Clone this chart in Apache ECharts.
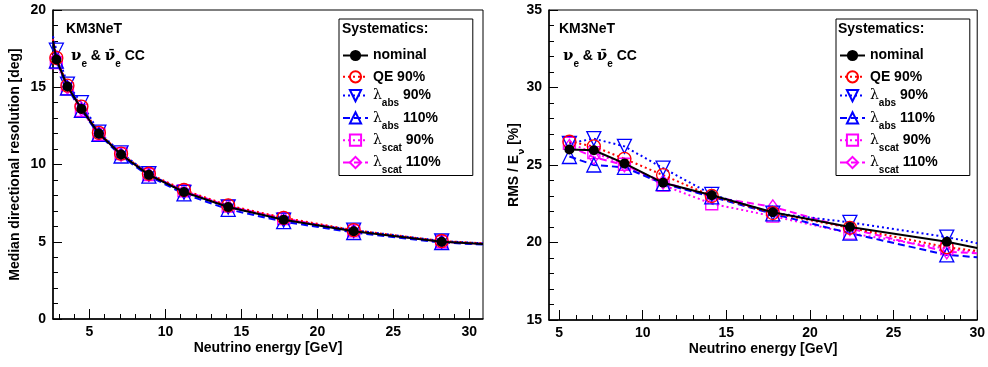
<!DOCTYPE html>
<html><head><meta charset="utf-8">
<script src="https://cdn.jsdelivr.net/npm/echarts@6/dist/echarts.min.js"></script>
<style>html,body{margin:0;padding:0;background:#fff}#c{width:988px;height:367px}</style>
</head><body><div id="c"></div>
<script>
// ---------- data ----------
const seriesNames = ['nominal', 'QE 90%', 'λabs 90%', 'λabs 110%', 'λscat 90%', 'λscat 110%'];

// Left panel: median directional resolution [deg]
const leftEnergy = [2.82, 3.55, 4.47, 5.62, 7.08, 8.91, 11.22, 14.13, 17.78, 22.39, 28.18];
const leftEdgeEnergy = [2.6, 30.9];
const leftNominal = [16.8, 15.05, 13.6, 12.0, 10.65, 9.33, 8.22, 7.25, 6.42, 5.68, 5.0];
const leftQE      = [16.9, 15.1, 13.75, 12.05, 10.7, 9.4, 8.35, 7.35, 6.55, 5.75, 5.05];
const leftAbs90   = [17.4, 15.2, 14.0, 12.1, 10.75, 9.4, 8.2, 7.25, 6.4, 5.75, 5.05];
const leftAbs110  = [16.7, 14.95, 13.5, 11.95, 10.55, 9.25, 8.1, 7.1, 6.3, 5.6, 4.95];
const leftScat90  = [16.6, 14.9, 13.5, 11.95, 10.7, 9.35, 8.3, 7.3, 6.5, 5.7, 5.0];
const leftScat110 = [16.9, 15.0, 13.6, 12.0, 10.65, 9.35, 8.3, 7.3, 6.5, 5.7, 5.0];
// line values at the frame edges (start, end)
const leftNominalEdge = [18.0, 4.86];
const leftQEEdge      = [18.1, 4.9];
const leftAbs90Edge   = [18.3, 4.9];
const leftAbs110Edge  = [17.9, 4.82];
const leftScat90Edge  = [17.9, 4.86];
const leftScat110Edge = [18.1, 4.86];

// Right panel: RMS / E_nu [%]
const rightEnergy = [5.62, 7.08, 8.91, 11.22, 14.13, 17.78, 22.39, 28.18];
const rightEdgeEnergy = 30;
const rightNominal = [26.0, 25.95, 25.1, 23.85, 23.05, 21.95, 21.0, 20.05];
const rightQE      = [26.5, 26.2, 25.4, 24.35, 23.0, 21.9, 20.95, 19.7];
const rightAbs90   = [26.4, 26.7, 26.2, 24.8, 23.1, 21.9, 21.3, 20.35];
const rightAbs110  = [25.55, 25.0, 24.85, 23.8, 22.95, 21.85, 20.6, 19.2];
const rightScat90  = [26.4, 25.8, 25.05, 23.7, 22.5, 21.7, 20.6, 19.6];
const rightScat110 = [26.2, 25.5, 25.0, 23.9, 22.95, 22.3, 20.9, 19.4];
// line values at the right frame edge
const rightEdgeValues = [19.65, 19.45, 19.95, 19.05, 19.35, 19.3];

// tick labels
const leftXTicks = [5, 10, 15, 20, 25, 30];
const rightXTicks = [5, 10, 15, 20, 25, 30];

// ---------- styles ----------
const styles = [
  {color: '#000000', type: 'solid', symbol: 'circle', size: 10, filled: true, rot: 0},
  {color: '#ff0000', type: [2, 3], symbol: 'circle', size: 13, filled: false, rot: 0},
  {color: '#0000ff', type: [2, 3], symbol: 'triangle', size: 14, filled: false, rot: 180},
  {color: '#0000ff', type: [7, 4], symbol: 'triangle', size: 14, filled: false, rot: 0},
  {color: '#ff00ff', type: [2, 3], symbol: 'rect', size: 12, filled: false, rot: 0},
  {color: '#ff00ff', type: [7, 4], symbol: 'diamond', size: [10, 14], filled: false, rot: 0}
];

function build(xs, ys, startX, startY, endX, endY) {
  const d = [];
  if (startX != null) d.push({value: [startX, startY], symbol: 'none'});
  xs.forEach((x, i) => d.push([x, ys[i]]));
  if (endX != null) d.push({value: [endX, endY], symbol: 'none'});
  return d;
}

const leftSets = [leftNominal, leftQE, leftAbs90, leftAbs110, leftScat90, leftScat110];
const leftEdges = [leftNominalEdge, leftQEEdge, leftAbs90Edge, leftAbs110Edge, leftScat90Edge, leftScat110Edge];
const rightSets = [rightNominal, rightQE, rightAbs90, rightAbs110, rightScat90, rightScat110];

function mkSeries(i, xi, yi, data) {
  const s = styles[i];
  return {
    name: seriesNames[i], type: 'line', xAxisIndex: xi, yAxisIndex: yi,
    data: data, symbol: s.symbol, symbolSize: s.size, symbolRotate: s.rot,
    z: i === 0 ? 5 : 3, animation: false, clip: true,
    lineStyle: {color: s.color, width: 2, type: s.type},
    itemStyle: s.filled ? {color: s.color} : {color: 'rgba(0,0,0,0)', borderColor: s.color, borderWidth: 1.3}
  };
}

const series = [];
for (let i = 5; i >= 0; i--) {
  series.push(mkSeries(i, 0, 0, build(leftEnergy, leftSets[i], leftEdgeEnergy[0], leftEdges[i][0], leftEdgeEnergy[1], leftEdges[i][1])));
}
for (let i = 5; i >= 0; i--) {
  series.push(mkSeries(i, 2, 1, build(rightEnergy, rightSets[i], null, null, rightEdgeEnergy, rightEdgeValues[i])));
}

const F = 'Liberation Sans, Arial, Helvetica, sans-serif';
const black = '#000';

function minorValues(lo, hi, majors) {
  const v = [];
  for (let k = Math.ceil(lo); k <= Math.floor(hi); k++) if (majors.indexOf(k) < 0) v.push(k);
  return v;
}

function xAxes(grid, min, max, ticks) {
  return [{
    type: 'value', gridIndex: grid, min: min, max: max, position: 'bottom',
    name: 'Neutrino energy [GeV]', nameLocation: 'middle', nameGap: 22, nameMoveOverlap: false,
    nameTextStyle: {fontFamily: F, fontWeight: 'bold', fontSize: 14, color: black},
    axisLine: {show: true, onZero: false, lineStyle: {color: black, width: 1.5}},
    axisTick: {show: true, inside: true, length: 10, customValues: ticks, lineStyle: {color: black, width: 1}},
    axisLabel: {customValues: ticks, fontFamily: F, fontWeight: 'bold', fontSize: 14, color: black, margin: 6},
    splitLine: {show: false}
  }, {
    type: 'value', gridIndex: grid, min: min, max: max, position: 'bottom',
    axisLine: {show: false, onZero: false},
    axisTick: {show: true, inside: true, length: 5, customValues: minorValues(min, max, ticks), lineStyle: {color: black, width: 1}},
    axisLabel: {show: false}, splitLine: {show: false}
  }];
}

function yAxis(grid, min, max, name, gap, rich) {
  return {
    type: 'value', gridIndex: grid, min: min, max: max, interval: 5,
    name: name, nameLocation: 'middle', nameGap: gap, nameRotate: 90, nameMoveOverlap: false,
    nameTextStyle: {fontFamily: F, fontWeight: 'bold', fontSize: 14, color: black, rich: rich},
    axisLine: {show: true, onZero: false, lineStyle: {color: black, width: 1.5}},
    axisTick: {show: true, inside: true, length: 9, lineStyle: {color: black, width: 1}},
    minorTick: {show: true, splitNumber: 5, length: 5, lineStyle: {color: black, width: 1}},
    axisLabel: {fontFamily: F, fontWeight: 'bold', fontSize: 14, color: black, margin: 7},
    splitLine: {show: false}
  };
}

const legendRich = {
  l: {fontFamily: 'DejaVu Serif, serif', fontSize: 14, fontWeight: 'normal', color: black, lineHeight: 20},
  s: {fontFamily: F, fontSize: 10, fontWeight: 'bold', color: black, verticalAlign: 'bottom', lineHeight: 20, padding: [0, 0, -3, 0]},
  t: {fontFamily: F, fontSize: 14, fontWeight: 'bold', color: black, lineHeight: 20},
  p: {fontFamily: F, fontSize: 14, fontWeight: 'bold', color: black, lineHeight: 15, padding: [2.5, 0, 2.5, 0]}
};
function legendFmt(n) {
  if (n.charAt(0) === 'λ') {
    const parts = n.slice(1).split(' ');
    return '{l|λ}{s|' + parts[0] + '}{t| ' + parts[1] + '}';
  }
  return '{p|' + n + '}';
}
function legend(left) {
  return {
    data: seriesNames.slice(), orient: 'vertical', left: left, top: 19,
    itemWidth: 25, itemHeight: 14, itemGap: 2.3,
    padding: [27, 32, 0, 3],
    borderColor: black, borderWidth: 1, backgroundColor: '#fff',
    formatter: legendFmt, selectedMode: false,
    textStyle: {fontFamily: F, fontSize: 14, fontWeight: 'bold', color: black, rich: legendRich}
  };
}

const nuRich = {
  n: {fontFamily: 'DejaVu Serif, serif', fontSize: 15, color: black},
  e: {fontFamily: F, fontSize: 10, color: black, verticalAlign: 'bottom', lineHeight: 20, padding: [0, 0, -3, 0]},
  b: {fontFamily: F, fontSize: 14, fontWeight: 'bold', color: black}
};
const nuText = '{n|ν}{e|e}{b| & }{n|ν̄}{e|e}{b| CC}';

const option = {
  backgroundColor: '#fff',
  animation: false,
  grid: [
    {left: 53, top: 10, width: 430, height: 309, show: true, borderColor: black, borderWidth: 1, containLabel: false},
    {left: 549, top: 10, width: 430, height: 310, show: true, borderColor: black, borderWidth: 1, containLabel: false}
  ],
  xAxis: [].concat(xAxes(0, 2.6, 30.9, leftXTicks), xAxes(1, 4.4, 30, rightXTicks)),
  yAxis: [
    yAxis(0, 0, 20, 'Median directional resolution [deg]', 31, null),
    yAxis(1, 15, 35, '{b|RMS / E}{s|ν}{b| [%]}', 26, {
      b: {fontFamily: F, fontWeight: 'bold', fontSize: 14, color: black},
      s: {fontFamily: 'DejaVu Sans, sans-serif', fontSize: 9, color: black, verticalAlign: 'bottom', lineHeight: 18, padding: [0, 0, -3, 0]}
    })
  ],
  title: [
    {text: 'KM3NeT', left: 66, top: 22, padding: 0, textStyle: {fontFamily: F, fontWeight: 'bold', fontSize: 14, color: black}},
    {text: nuText, left: 71, top: 46, padding: 0, textStyle: {rich: nuRich}},
    {text: 'Systematics:', left: 342, top: 22, padding: 0, z: 10, textStyle: {fontFamily: F, fontWeight: 'bold', fontSize: 14, color: black}},
    {text: 'KM3NeT', left: 559, top: 22, padding: 0, textStyle: {fontFamily: F, fontWeight: 'bold', fontSize: 14, color: black}},
    {text: nuText, left: 563, top: 46, padding: 0, textStyle: {rich: nuRich}},
    {text: 'Systematics:', left: 838, top: 22, padding: 0, z: 10, textStyle: {fontFamily: F, fontWeight: 'bold', fontSize: 14, color: black}}
  ],
  legend: [legend(339), legend(836)],
  series: series
};

const chart = echarts.init(document.getElementById('c'), null, {renderer: 'canvas'});
chart.setOption(option);
</script>
</body></html>
